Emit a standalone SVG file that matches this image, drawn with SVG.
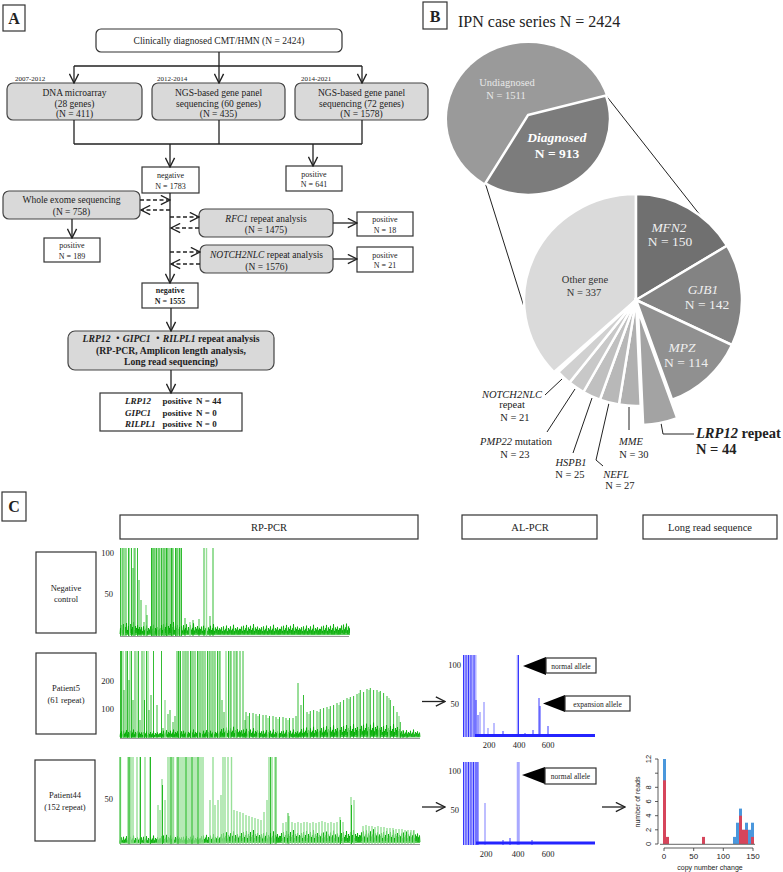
<svg xmlns="http://www.w3.org/2000/svg" xmlns:xlink="http://www.w3.org/1999/xlink" width="783" height="872" viewBox="0 0 783 872">
<style>
text{font-family:"Liberation Serif","Times New Roman",serif;fill:#222}
.box{fill:#fff;stroke:#333;stroke-width:1.2}
.gbox{fill:#d9d9d9;stroke:#444;stroke-width:1.2}
.ln{stroke:#222;stroke-width:1.3;fill:none}
.dash{stroke-dasharray:4 2.5}
.m{font-size:9.5px;text-anchor:middle}
.s{font-size:8px;text-anchor:middle}
.yr{font-size:7px}
.b{font-weight:bold}
.i{font-style:italic}
.lab{font-size:16px;font-weight:bold;text-anchor:middle}
.pl{font-size:10.5px;text-anchor:middle}
.w{fill:#efefef}
.sl{stroke:#fff;stroke-width:2.5}
.ld{stroke:#222;stroke-width:1;fill:none}
.g1{stroke:#00ac00;stroke-width:0.8;fill:none}
.g2{stroke:#98e098;stroke-width:1.4;fill:none}
.b1{stroke:#2424ff;stroke-width:0.9;fill:none}
.b2{stroke:#a9a9ff;stroke-width:1.5;fill:none}
.ax{font-size:8.5px;text-anchor:end}
.hs{font-family:"Liberation Sans",Arial,sans-serif}
</style>
<defs>
<marker id="ah" viewBox="0 0 12 12" refX="11" refY="6" markerWidth="11" markerHeight="11" markerUnits="userSpaceOnUse" orient="auto">
<path d="M1 1 L11 6 L1 11" fill="none" stroke="#222" stroke-width="1.5" stroke-dasharray="none"/>
</marker>
<path id="nz" vector-effect="non-scaling-stroke" d="M0 -2L.5 -8L1 -1L1.5 -11L2 -3L2.5 -6L3 -1L3.5 -12L4 -2L4.5 -7L5 -1L5.5 -9L6 -3L6.5 -13L7 -1L7.5 -6L8 -2L8.5 -10L9 -1L9.5 -8L10 -3L10.5 -12L11 -1L11.5 -7L12 -2L12.5 -9L13 -1L13.5 -14L14 -2L14.5 -6L15 -1L15.5 -10L16 -3L16.5 -8L17 -1L17.5 -11L18 -2L18.5 -7L19 -1L19.5 -9L20 -2"/>
<clipPath id="c1"><rect x="119" y="548" width="231" height="89"/></clipPath>
<clipPath id="c2"><rect x="119" y="651" width="302" height="88"/></clipPath>
<clipPath id="c3"><rect x="119" y="757" width="302" height="88"/></clipPath>
<clipPath id="c4"><rect x="462" y="655" width="134" height="83"/></clipPath>
<clipPath id="c5"><rect x="462" y="762" width="134" height="84"/></clipPath>
</defs>
<rect width="783" height="872" fill="#fff"/>

<!-- Panel labels -->
<g id="labelA"><rect class="box" x="3" y="5" width="22" height="26"/><text class="lab" x="14" y="24">A</text></g>
<g id="labelB"><rect class="box" x="423" y="2" width="24" height="27"/><text class="lab" x="435" y="22">B</text></g>
<g id="labelC"><rect class="box" x="2" y="492" width="24" height="29"/><text class="lab" x="14" y="512">C</text></g>

<!-- Panel A nodes -->
<g id="top"><rect class="box" x="96" y="29" width="246" height="23" rx="5"/><text class="m" x="219" y="44">Clinically diagnosed CMT/HMN (N = 2424)</text></g>
<text class="yr" x="15" y="81">2007-2012</text>
<text class="yr" x="157" y="81">2012-2014</text>
<text class="yr" x="301" y="81">2014-2021</text>
<g id="dna"><rect class="gbox" x="7" y="83" width="135" height="37" rx="6"/><text class="m" x="74.5" y="95.5">DNA microarray</text><text class="m" x="74.5" y="106.5">(28 genes)</text><text class="m" x="74.5" y="117">(N = 411)</text></g>
<g id="ngs60"><rect class="gbox" x="152" y="83" width="133" height="37" rx="6"/><text class="m" x="218.5" y="95.5">NGS-based gene panel</text><text class="m" x="218.5" y="106.5">sequencing (60 genes)</text><text class="m" x="218.5" y="117">(N = 435)</text></g>
<g id="ngs72"><rect class="gbox" x="295" y="83" width="133" height="37" rx="6"/><text class="m" x="361.5" y="95.5">NGS-based gene panel</text><text class="m" x="361.5" y="106.5">sequencing (72 genes)</text><text class="m" x="361.5" y="117">(N = 1578)</text></g>
<g id="neg1783"><rect class="box" x="142" y="167" width="57" height="26"/><text class="s" x="170.5" y="177.5">negative</text><text class="s" x="170.5" y="188.5">N = 1783</text></g>
<g id="pos641"><rect class="box" x="286" y="166" width="56" height="25"/><text class="s" x="314" y="176.5">positive</text><text class="s" x="314" y="187">N = 641</text></g>
<g id="wes"><rect class="gbox" x="3" y="191" width="137" height="28" rx="6"/><text class="m" x="71.5" y="203">Whole exome sequencing</text><text class="m" x="71.5" y="215">(N = 758)</text></g>
<g id="pos189"><rect class="box" x="44" y="238" width="56" height="24"/><text class="s" x="72" y="248">positive</text><text class="s" x="72" y="258.5">N = 189</text></g>
<g id="rfc1"><rect class="gbox" x="199" y="209" width="134" height="28" rx="6"/><text class="m" x="266" y="221.5"><tspan class="i">RFC1</tspan> repeat analysis</text><text class="m" x="266" y="233">(N = 1475)</text></g>
<g id="pos18"><rect class="box" x="357" y="212" width="56" height="24"/><text class="s" x="385" y="222">positive</text><text class="s" x="385" y="232.5">N = 18</text></g>
<g id="notch"><rect class="gbox" x="200" y="245" width="133" height="28" rx="6"/><text class="m" x="266.5" y="257.5"><tspan class="i">NOTCH2NLC</tspan>  repeat analysis</text><text class="m" x="266.5" y="269.5">(N = 1576)</text></g>
<g id="pos21"><rect class="box" x="357" y="247" width="56" height="25"/><text class="s" x="385" y="257.5">positive</text><text class="s" x="385" y="268">N = 21</text></g>
<g id="neg1555"><rect class="box" x="142" y="283" width="56" height="25" stroke-width="1.8"/><text class="s b" x="170" y="293">negative</text><text class="s b" x="170" y="304">N = 1555</text></g>
<g id="lrp"><rect class="gbox" x="68" y="331" width="206" height="39" rx="7" stroke-width="1.5"/>
<text class="m b" x="171" y="342" style="font-size:9.7px;font-family:'Liberation Serif','Noto Sans CJK JP',serif"><tspan class="i">LRP12</tspan> ・<tspan class="i">GIPC1</tspan> ・<tspan class="i">RILPL1</tspan> repeat analysis</text>
<text class="m b" x="171" y="353.5" style="font-size:9.7px">(RP-PCR, Amplicon length analysis,</text>
<text class="m b" x="171" y="365" style="font-size:9.7px">Long read sequencing)</text></g>
<g id="result"><rect class="box" x="100" y="393" width="142" height="38" stroke-width="1.5"/>
<g style="font-size:9px;font-weight:bold">
<text x="125" y="404" class="i">LRP12</text><text x="162.5" y="404">positive</text><text x="196" y="404">N = 44</text>
<text x="125" y="415.5" class="i">GIPC1</text><text x="162.5" y="415.5">positive</text><text x="196" y="415.5">N = 0</text>
<text x="125" y="427" class="i">RILPL1</text><text x="162.5" y="427">positive</text><text x="196" y="427">N = 0</text>
</g></g>

<g id="connectors">
<path class="ln" d="M219 52V66M74 66H362M74 144H362M74 120V144M219 120V144M362 120V144"/>
<path class="ln" marker-end="url(#ah)" d="M74 66V83"/>
<path class="ln" marker-end="url(#ah)" d="M219 66V83"/>
<path class="ln" marker-end="url(#ah)" d="M362 66V83"/>
<path class="ln" marker-end="url(#ah)" d="M170 144V167"/>
<path class="ln" marker-end="url(#ah)" d="M313 144V166"/>
<path class="ln" marker-end="url(#ah)" d="M170 193V283"/>
<path class="ln dash" marker-end="url(#ah)" d="M140 200H170"/>
<path class="ln dash" marker-end="url(#ah)" d="M170 210H141"/>
<path class="ln dash" marker-end="url(#ah)" d="M170 217H199"/>
<path class="ln dash" marker-end="url(#ah)" d="M199 228H171"/>
<path class="ln dash" marker-end="url(#ah)" d="M170 252H200"/>
<path class="ln dash" marker-end="url(#ah)" d="M200 264H171"/>
<path class="ln" marker-end="url(#ah)" d="M72 219V238"/>
<path class="ln" marker-end="url(#ah)" d="M333 223H357"/>
<path class="ln" marker-end="url(#ah)" d="M333 259H357"/>
<path class="ln" marker-end="url(#ah)" d="M171 308V331"/>
<path class="ln" marker-end="url(#ah)" d="M171 370V393"/>
<!-- pie zoom lines -->
<path class="ld" d="M606 95.5L700 215M485.3 183.4L525 310"/>
<!-- leader lines -->
<path class="ld" d="M545 395L562 379M547 432L575 389M573 453L592 398M609 403L596 460L603 466M629 407V430M661 423L663 434H694"/>
<!-- panel C arrows -->
<path class="ln" marker-end="url(#ah)" d="M422 701.5H445"/>
<path class="ln" marker-end="url(#ah)" d="M422 807H445"/>
<path class="ln" marker-end="url(#ah)" d="M602 807H625"/>
</g>

<!-- Panel B -->
<text x="458" y="27" style="font-size:16px">IPN case series N = 2424</text>
<g id="bigpie">
<ellipse cx="528.5" cy="119" rx="81.5" ry="76" fill="#9a9a9a"/>
<path d="M528 115L606 95.5A81.5 76 0 0 1 485.3 183.4Z" fill="#7c7c7c" class="sl"/>
<text class="pl" x="507" y="86" style="fill:#e8e8e8">Undiagnosed</text>
<text class="pl" x="506" y="99" style="fill:#e8e8e8">N  = 1511</text>
<text x="557" y="142" style="font-size:13.5px;font-weight:bold;font-style:italic;fill:#fff;text-anchor:middle">Diagnosed</text>
<text x="557" y="158" style="font-size:13.5px;font-weight:bold;fill:#fff;text-anchor:middle">N = 913</text>
</g>
<g id="smallpie">
<path class="sl" fill="#dadada" d="M636 300L553.9 372.1A112 106 0 0 1 636 194Z"/>
<path class="sl" fill="#707070" d="M636 300L636 194A106 106 0 0 1 727 245.7Z"/>
<path class="sl" fill="#838383" d="M636 300L727 245.7A106 106 0 0 1 732 345Z"/>
<path class="sl" fill="#909090" d="M636 300L732 345A106 106 0 0 1 672.1 399.7Z"/>
<path class="sl" fill="#a3a3a3" d="M638 310L677.2 418.1A115 115 0 0 1 643.1 424.9Z"/>
<path class="sl" fill="#b0b0b0" d="M636 300L640.7 405.9A106 106 0 0 1 618.9 404.6Z"/>
<path class="sl" fill="#b8b8b8" d="M636 300L618.9 404.6A106 106 0 0 1 599.9 399.7Z"/>
<path class="sl" fill="#c0c0c0" d="M636 300L599.9 399.7A106 106 0 0 1 583.4 392Z"/>
<path class="sl" fill="#c8c8c8" d="M636 300L583.4 392A106 106 0 0 1 569.5 382.6Z"/>
<path class="sl" fill="#d0d0d0" d="M636 300L569.5 382.6A106 106 0 0 1 558.3 372.1Z"/>
<g style="font-size:13.5px;text-anchor:middle">
<text class="i w" x="669" y="231.5">MFN2</text><text class="w" x="670" y="246">N = 150</text>
<text class="i w" x="703" y="294">GJB1</text><text class="w" x="707" y="309">N = 142</text>
<text class="i w" x="682" y="351.5">MPZ</text><text class="w" x="686" y="366.5">N = 114</text>
</g>
<text class="pl" x="585" y="283" style="fill:#333">Other gene</text>
<text class="pl" x="584" y="295.5" style="fill:#333">N = 337</text>
</g>
<g id="pielabels" style="font-size:10.5px;text-anchor:middle">
<text class="i" x="512" y="398">NOTCH2NLC</text><text x="512" y="408">repeat</text><text x="515" y="420.5">N = 21</text>
<text x="516" y="445"><tspan class="i">PMP22</tspan> mutation</text><text x="515" y="458">N = 23</text>
<text class="i" x="571" y="466">HSPB1</text><text x="570" y="477.5">N = 25</text>
<text class="i" x="616" y="477.5">NEFL</text><text x="620" y="488.5">N = 27</text>
<text class="i" x="631" y="445">MME</text><text x="634" y="458">N = 30</text>
<text x="696" y="438" style="font-size:14.5px;font-weight:bold;text-anchor:start"><tspan font-style="italic">LRP12</tspan> repeat</text>
<text x="696" y="454" style="font-size:14.5px;font-weight:bold;text-anchor:start">N = 44</text>
</g>

<!-- Panel C headers -->
<g id="hdr1"><rect class="box" x="120" y="515" width="298" height="24"/><text class="pl" x="269" y="531">RP-PCR</text></g>
<g id="hdr2"><rect class="box" x="462" y="515" width="135" height="24"/><text class="pl" x="530" y="531">AL-PCR</text></g>
<g id="hdr3"><rect class="box" x="643" y="515" width="134" height="24"/><text class="pl" x="710" y="531">Long read sequence</text></g>
<g id="rowneg"><rect class="box" x="36" y="552" width="60" height="81"/><text class="pl" x="66" y="591" style="font-size:8.5px">Negative</text><text class="pl" x="66" y="602" style="font-size:8.5px">control</text></g>
<g id="rowp5"><rect class="box" x="36" y="653" width="60" height="81"/><text class="pl" x="66" y="691" style="font-size:8.5px">Patient5</text><text class="pl" x="66" y="703" style="font-size:8.5px">(61 repeat)</text></g>
<g id="rowp44"><rect class="box" x="35" y="760" width="60" height="81"/><text class="pl" x="65" y="798" style="font-size:8.5px">Patient44</text><text class="pl" x="65" y="810" style="font-size:8.5px">(152 repeat)</text></g>

<!-- axis labels -->
<text class="ax" x="114" y="556">100</text><text class="ax" x="113" y="597">50</text>
<text class="ax" x="114" y="684">200</text><text class="ax" x="114" y="712">100</text>
<text class="ax" x="113" y="802">50</text>
<text class="ax" x="461" y="668">100</text><text class="ax" x="459" y="707">50</text>
<text class="ax" x="461" y="774">100</text><text class="ax" x="459" y="813">50</text>
<g style="font-size:8.5px;text-anchor:middle">
<text x="489" y="748">200</text><text x="519" y="748">400</text><text x="548" y="748">600</text>
<text x="486" y="857">200</text><text x="518" y="857">400</text><text x="548" y="857">600</text>
</g>

<!-- RP-PCR chart 1 -->
<g id="rp1" clip-path="url(#c1)">
<g class="g1">
<use xlink:href="#nz" transform="translate(120 636)"/><use xlink:href="#nz" transform="translate(140 636) scale(1 .8)"/><use xlink:href="#nz" transform="translate(160 636)"/><use xlink:href="#nz" transform="translate(180 636) scale(1 .9)"/><use xlink:href="#nz" transform="translate(200 636) scale(1 .85)"/><use xlink:href="#nz" transform="translate(220 636) scale(1 .8)"/><use xlink:href="#nz" transform="translate(240 636) scale(1 .85)"/><use xlink:href="#nz" transform="translate(260 636) scale(1 .8)"/><use xlink:href="#nz" transform="translate(280 636) scale(1 .85)"/><use xlink:href="#nz" transform="translate(300 636) scale(1 .8)"/><use xlink:href="#nz" transform="translate(320 636) scale(1 .85)"/><use xlink:href="#nz" transform="translate(340 636) scale(1 .95)"/>
</g>
<path class="g2" d="M122 636V548M124.5 636V548M129.5 636V548M134 636V548M152 636V548M154 636V548M158 636V548M160 636V548M164 636V548M167 636V548M172 636V548M176 636V548M178 636V548M180.5 636V548M206.5 636V548M146 636V605M190 636V622"/>
<path class="g1" d="M120.5 636V548M123 636V548M126 636V548M128.5 636V548M131.5 636V548M135 636V548M137.5 636V548M151.5 636V548M153 636V548M155 636V548M156.5 636V548M159 636V548M161.5 636V548M163 636V548M165 636V548M166.5 636V548M168 636V548M170 636V548M171.5 636V548M173 636V548M175.5 636V548M177 636V548M179.5 636V548M181.5 636V548M204 636V548M213 636V548M133 636V568M139 636V580M141 636V600M144 636V622M147 636V615M185 636V618M193 636V620M199 636V619M210 636V616"/>
</g>
<path d="M120 636.5H349" stroke="#999" stroke-width="1"/>

<!-- RP-PCR chart 2 -->
<g id="rp2" clip-path="url(#c2)">
<g class="g1">
<use xlink:href="#nz" transform="translate(120 738) scale(1 .6)"/><use xlink:href="#nz" transform="translate(140 738) scale(1 .5)"/><use xlink:href="#nz" transform="translate(160 738) scale(1 .6)"/><use xlink:href="#nz" transform="translate(180 738) scale(1 .6)"/><use xlink:href="#nz" transform="translate(200 738) scale(1 .6)"/><use xlink:href="#nz" transform="translate(220 738) scale(1 .8)"/><use xlink:href="#nz" transform="translate(240 738) scale(1 .7)"/><use xlink:href="#nz" transform="translate(260 738) scale(1 .6)"/><use xlink:href="#nz" transform="translate(280 738) scale(1 .6)"/><use xlink:href="#nz" transform="translate(300 738) scale(1 .8)"/><use xlink:href="#nz" transform="translate(320 738) scale(1 .9)"/><use xlink:href="#nz" transform="translate(340 738) scale(1 1)"/><use xlink:href="#nz" transform="translate(360 738) scale(1 1.1)"/><use xlink:href="#nz" transform="translate(380 738) scale(1 1)"/><use xlink:href="#nz" transform="translate(400 738) scale(1 .6)"/>
</g>
<path class="g2" d="M123 738V651M130 738V651M137 738V651M144 738V651M148 738V651M179.5 738V651M186.5 738V651M191.5 738V651M198.5 738V651M201.5 738V651M209 738V651M213.5 738V651M219 738V651M226 738V651M230 738V651M236 738V651M165 738V700M248 738V716M258 738V716M268 738V718M278 738V719M288 738V720M309 738V714M319 738V712M329 738V709M339 738V705M349 738V699M359 738V693M369 738V690M379 738V692M389 738V698M399 738V716"/>
<path class="g1" d="M120.5 738V651M121.5 738V651M126 738V651M127.5 738V651M131.5 738V651M135 738V651M138.5 738V651M142 738V651M146.5 738V651M153.5 738V651M161.5 738V651M177 738V651M178.5 738V651M180.5 738V651M183 738V651M185 738V651M188 738V651M190.5 738V651M193 738V651M195 738V651M197.5 738V651M200 738V651M203 738V651M205 738V651M207.5 738V651M210 738V651M212 738V651M215 738V651M217.5 738V651M220 738V651M228.5 738V651M231 738V651M234 738V651M237 738V651M240 738V651M243 738V651M124 738V690M129 738V680M133 738V700M140 738V720M144.5 738V700M149 738V710M151 738V695M157 738V705M163 738V728M168 738V714M170 738V710M173 738V722M175 738V716M222 738V700M224 738V712M245 738V720M246 738V712M249.5 738V713M253 738V713M256 738V714M259.5 738V714M263 738V715M266 738V715M269.5 738V716M273 738V716M276 738V717M279.5 738V717M283 738V717M286 738V718M289.5 738V718M293 738V718M296 738V716M298 738V683M301 738V705M303.5 738V695M307 738V712M310.3 738V711M313.6 738V710M317 738V711M320.3 738V709M323.6 738V708M327 738V707M330.3 738V706M333.6 738V705M337 738V703M340.3 738V702M343.6 738V700M347 738V698M350.3 738V697M353.6 738V696M357 738V694M360.3 738V690M363.6 738V692M367 738V689M370.3 738V688M373.6 738V690M377 738V690M380.3 738V691M383.6 738V693M387 738V696M390.3 738V700M393.6 738V706M397 738V712M400.3 738V722M403 738V730M407 738V733"/>
</g>
<path d="M120 738.5H420" stroke="#999" stroke-width="1"/>

<!-- RP-PCR chart 3 -->
<g id="rp3" clip-path="url(#c3)">
<g class="g1">
<use xlink:href="#nz" transform="translate(120 844) scale(1 .6)"/><use xlink:href="#nz" transform="translate(140 844) scale(1 .6)"/><use xlink:href="#nz" transform="translate(160 844) scale(1 .7)"/><use xlink:href="#nz" transform="translate(180 844) scale(1 .6)"/><use xlink:href="#nz" transform="translate(200 844) scale(1 .7)"/><use xlink:href="#nz" transform="translate(220 844) scale(1 .9)"/><use xlink:href="#nz" transform="translate(240 844) scale(1 1)"/><use xlink:href="#nz" transform="translate(260 844) scale(1 .9)"/><use xlink:href="#nz" transform="translate(280 844) scale(1 1)"/><use xlink:href="#nz" transform="translate(300 844) scale(1 1)"/><use xlink:href="#nz" transform="translate(320 844) scale(1 .95)"/><use xlink:href="#nz" transform="translate(340 844) scale(1 1)"/><use xlink:href="#nz" transform="translate(360 844) scale(1 1.05)"/><use xlink:href="#nz" transform="translate(380 844) scale(1 1)"/><use xlink:href="#nz" transform="translate(400 844) scale(1 .95)"/>
</g>
<path class="g2" d="M120.5 844V757M128 844V757M129.5 844V757M131 844V757M133 844V757M137 844V757M140 844V757M145 844V757M150 844V757M168 844V757M170 844V757M172 844V757M173.5 844V757M177 844V757M179 844V757M181 844V757M183 844V757M185 844V757M187 844V757M189 844V757M191 844V757M193 844V757M195 844V757M197 844V757M199 844V757M201 844V757M203 844V757M213 844V757M223 844V757M225 844V757M228 844V757M231.5 844V757M269 844V757M272 844V757M275 844V757M162 844V779M158 844V805M160 844V810M165 844V800M210 844V800M215 844V805M218 844V800M221 844V795M234 844V810M237 844V811M240 844V812M243 844V813M246 844V815M249 844V816M252 844V817M255 844V818M258 844V819M261 844V820M264 844V812M267 844V800M283 844V823M286 844V822M289 844V816M292 844V822M295 844V823M298 844V822M301 844V823M304 844V822M307 844V822M310 844V823M313 844V822M316 844V823M319 844V822M322 844V821M325 844V822M328 844V823M331 844V822M334 844V823M337 844V822M340 844V817M343 844V822M351 844V797M354 844V800M363 844V826M366 844V825M369 844V826M372 844V826M375 844V827M378 844V826M381 844V827M384 844V827M387 844V828M390 844V828M393 844V828M396 844V829M399 844V829M402 844V829M405 844V830M408 844V830M411 844V830M414 844V830"/>
<path class="g1" d="M120 844V757M129 844V757M140.5 844V757M150.5 844V757M171 844V757M178 844V757M186 844V757M192 844V757M198 844V757M270.5 844V757M276 844V757M162.5 844V785M288 844V813M340.5 844V820M351.5 844V805"/>
</g>
<path d="M120 844.5H420" stroke="#999" stroke-width="1"/>

<!-- AL-PCR chart A -->
<g id="al1" clip-path="url(#c4)">
<rect x="463" y="655" width="14" height="82" fill="#d6d6ff"/>
<path class="b2" d="M464.5 737V655M467 737V655M470 737V655M472.5 737V655M475 737V655M484 737V702M494 737V723M480 737V712M488 737V728M517.5 737V655"/>
<path class="b1" d="M463.5 737V655M466 737V655M468.5 737V655M471 737V655M474 737V655M476 737V700M478 737V715M518.5 737V655M533 737V730M539 737V698M540 737V706M548 737V726M503 737V731M525 737V733"/>
<path d="M475 735.5H595" stroke="#2424ff" stroke-width="3"/>
</g>
<!-- AL-PCR chart B -->
<g id="al2" clip-path="url(#c5)">
<rect x="463" y="762" width="15" height="83" fill="#d6d6ff"/>
<path class="b2" d="M465 845V762M467.5 845V762M470 845V762M472.5 845V762M475 845V762M477 845V762M485 845V803M517.5 845V762M519 845V762"/>
<path class="b1" d="M463.5 845V762M466 845V762M468.5 845V762M471 845V762M473.5 845V762M476 845V762M478 845V762M510 845V838M503 845V840M532 845V840"/>
<path d="M476 843H595" stroke="#2424ff" stroke-width="3"/>
</g>

<!-- allele callouts -->
<g id="normal1"><path d="M523 666L546 657V675Z" fill="#000"/><rect class="box" x="546" y="658" width="50" height="15"/><text x="571" y="668.5" style="font-size:7.5px;text-anchor:middle">normal allele</text></g>
<g id="expansion"><path d="M543 703.5L565 695V712Z" fill="#000"/><rect class="box" x="565" y="696" width="65" height="15"/><text x="597.5" y="706.5" style="font-size:7.5px;text-anchor:middle">expansion allele</text></g>
<g id="normal2"><path d="M522 775L545 767V784Z" fill="#000"/><rect class="box" x="545" y="768" width="51" height="16"/><text x="570.5" y="779" style="font-size:7.5px;text-anchor:middle">normal allele</text></g>

<!-- Histogram -->
<g id="hist">
<g fill="#4a97dc">
<rect x="663" y="759" width="3" height="85"/><rect x="733" y="836.9" width="3" height="7.1"/><rect x="736" y="822.7" width="3" height="21.3"/><rect x="739" y="808.6" width="3" height="35.4"/><rect x="742" y="829.8" width="3" height="14.2"/><rect x="745" y="822.7" width="3" height="21.3"/><rect x="748" y="829.8" width="3" height="14.2"/><rect x="751" y="822.7" width="3" height="21.3"/>
</g>
<g fill="#d6455b">
<rect x="663" y="780.3" width="3" height="63.7"/><rect x="666" y="836.9" width="3" height="7.1"/><rect x="702" y="836.9" width="3" height="7.1"/><rect x="739" y="815.7" width="3" height="28.3"/><rect x="742" y="829.8" width="3" height="14.2"/><rect x="745" y="829.8" width="3" height="14.2"/><rect x="751" y="836.9" width="3" height="7.1"/>
</g>
<path d="M660 844.3H755" stroke="#666" stroke-width="1"/>
<path d="M658 759V844M655 844H658M655 829.8H658M655 815.7H658M655 801.5H658M655 787.3H658M655 773.2H658M655 759H658M664 848H753M664 848V851M693.7 848V851M723.3 848V851M753 848V851" stroke="#333" stroke-width="0.8" fill="none"/>
<g class="hs" style="font-size:7.5px;text-anchor:middle">
<text class="hs" transform="translate(651 844) rotate(-90)">0</text>
<text class="hs" transform="translate(651 829.8) rotate(-90)">2</text>
<text class="hs" transform="translate(651 815.7) rotate(-90)">4</text>
<text class="hs" transform="translate(651 801.5) rotate(-90)">6</text>
<text class="hs" transform="translate(651 787.3) rotate(-90)">8</text>
<text class="hs" transform="translate(651 759) rotate(-90)">12</text>
<text class="hs" transform="translate(640 802) rotate(-90)" style="font-size:7px">number of reads</text>
<text class="hs" x="664" y="859" style="font-size:8px">0</text>
<text class="hs" x="693.7" y="859" style="font-size:8px">50</text>
<text class="hs" x="723.3" y="859" style="font-size:8px">100</text>
<text class="hs" x="753" y="859" style="font-size:8px">150</text>
<text class="hs" x="710" y="870" style="font-size:7px">copy number change</text>
</g>
</g>
</svg>
